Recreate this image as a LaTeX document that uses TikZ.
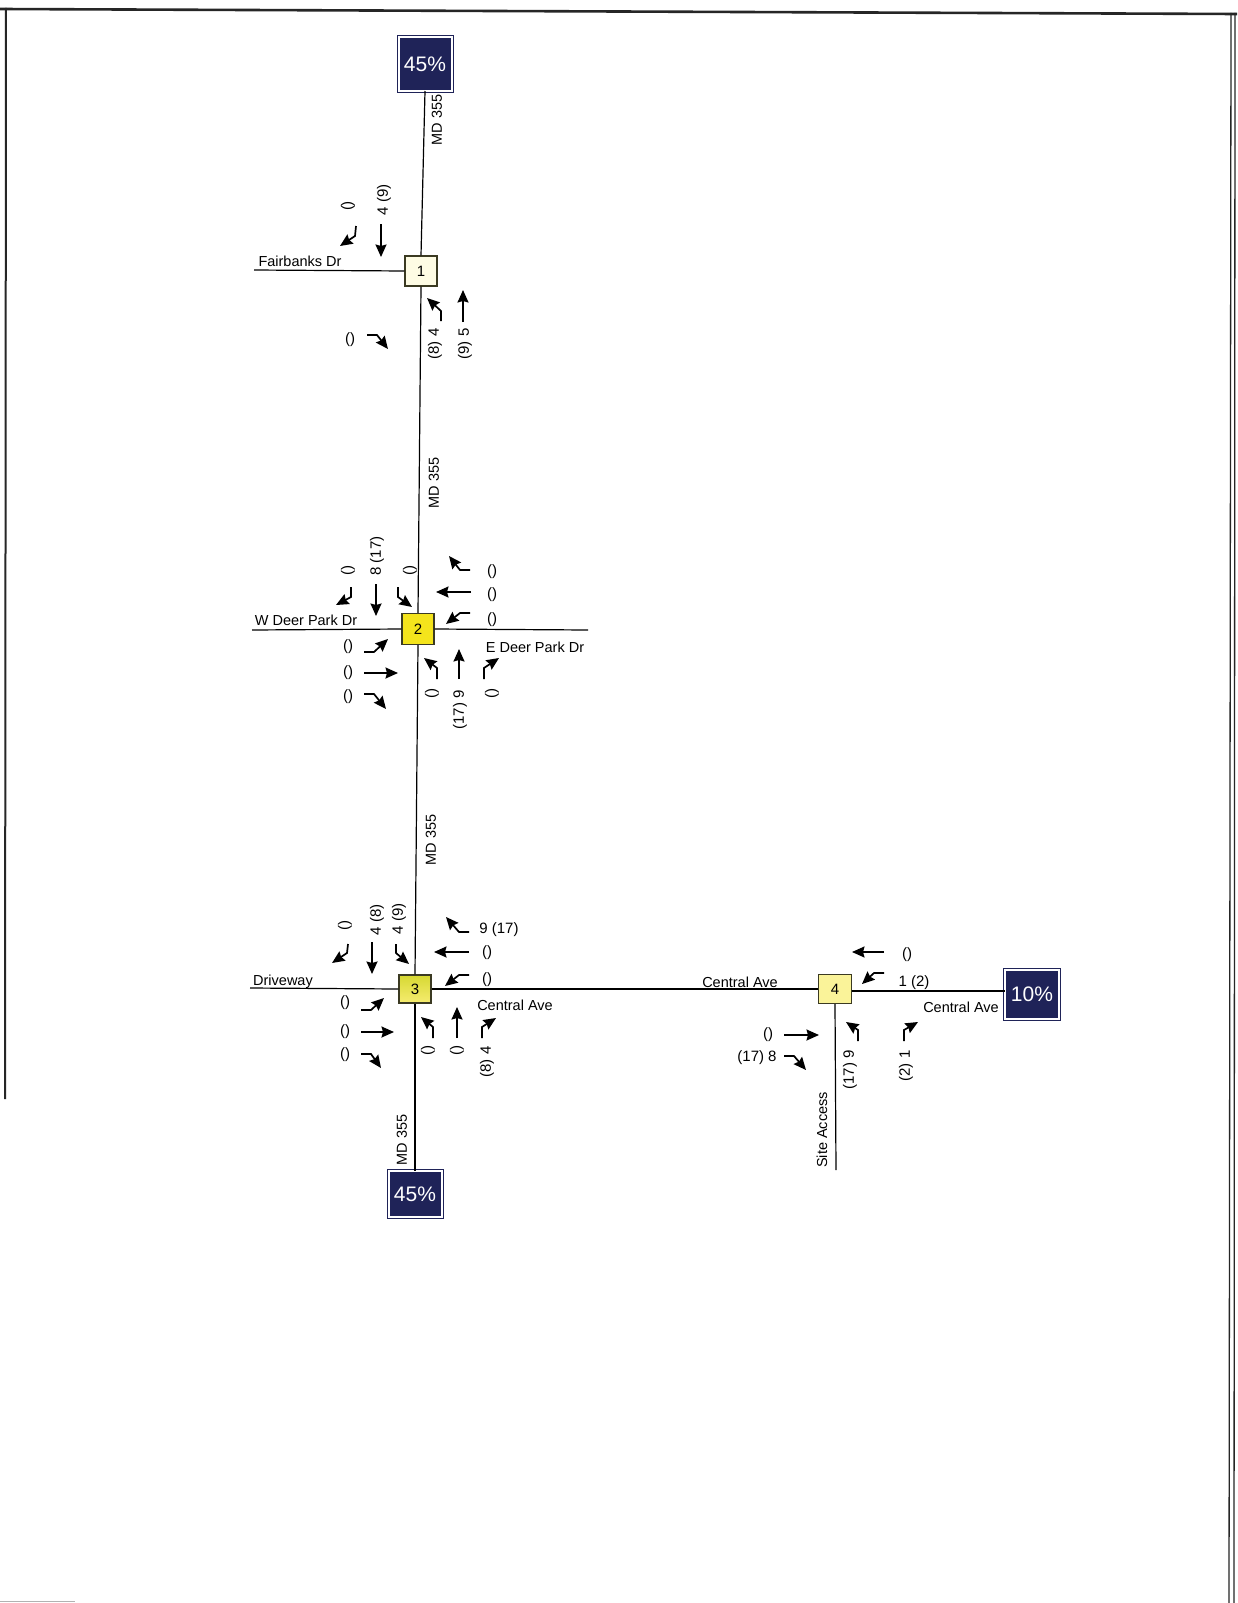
\documentclass[tikz,border=0pt]{standalone}
\usepackage{fontspec}
\setmainfont{Liberation Sans}
\usetikzlibrary{arrows.meta}
\definecolor{navyB}{HTML}{1F2358}
\definecolor{boxline}{HTML}{3B3A22}
\definecolor{ylw}{HTML}{F4E41C}
\definecolor{ylwtop}{HTML}{D6D832}
\definecolor{ylwbot}{HTML}{F6EC70}
\begin{document}
\begin{tikzpicture}[x=1pt,y=-1pt,
  road/.style={line width=1.2pt,black},
  mv/.style={line width=1.7pt,black,-{Stealth[length=12.5pt,width=11pt,inset=1.5pt]}},
  txt/.style={font=\fontsize{14.5}{16}\selectfont,inner sep=0pt},
  vol/.style={font=\fontsize{15}{17}\selectfont,inner sep=0pt},
  rvol/.style={vol,rotate=90},
  rtxt/.style={txt,rotate=90},
  nodebox/.style={draw=boxline,line width=1.2pt,minimum width=32pt,minimum height=30pt,inner sep=0pt,font=\fontsize{15}{17}\selectfont},
  pctbox/.style={draw=navyB,fill=navyB,double=white,double distance=2pt,line width=1pt,inner sep=0pt,text=white,font=\fontsize{21}{24}\selectfont}]
\useasboundingbox (0,0) rectangle (1237,1603);
\fill[white] (0,0) rectangle (1237,1603);
% frame
\draw[line width=2.6pt,black!85] (0,9) -- (1237,14);
\draw[line width=2pt,black!85] (6,8) -- (5,1099);
\draw[line width=1.3pt,black!85] (1231,13) -- (1229,1603);
\draw[line width=1.3pt,black!85] (1235,13) -- (1234,1603);
\draw[line width=1pt,black!30] (0,1601) -- (75,1601);
% boxes
\node[pctbox,minimum width=53pt,minimum height=53pt] (topbox) at (425,64) {45\%};
\node[pctbox,minimum width=53pt,minimum height=46pt] (botbox) at (415,1194) {45\%};
\node[pctbox,minimum width=54pt,minimum height=49pt] (tenbox) at (1032,994) {10\%};
\node[nodebox,fill=ylw!12] (n1) at (421,271) {1};
\node[nodebox,fill=ylw,minimum height=31pt] (n2) at (418,629) {2};
\node[nodebox,top color=ylwtop,bottom color=ylwbot,minimum height=28pt] (n3) at (415,989) {3};
\node[nodebox,fill=ylw!45,minimum height=29pt,minimum width=33pt] (n4) at (835,989) {4};
% roads
\coordinate (fbW) at (254,270);
\coordinate (wdW) at (252,630);
\coordinate (edE) at (588,630);
\coordinate (dwW) at (250,988);
\coordinate (saS) at (836,1170);
\draw[road] (topbox.south) -- (n1.north);
\draw[road] (n1.south) -- (n2.north);
\draw[road] (n2.south) -- (n3.north);
\draw[road] (n3.south) -- (botbox.north);
\draw[road] (fbW) -- (n1.west);
\draw[road] (wdW) -- (n2.west);
\draw[road] (n2.east) -- (edE);
\draw[road] (dwW) -- (n3.west);
\draw[road] (n3.east) -- (n4.west);
\draw[road] ([yshift=-2pt]n4.east) -- ([yshift=-2pt]n4.east -| tenbox.west);
\draw[road] (n4.south) -- (saS);
% road names
\node[rtxt] (md1) at (437,120) {MD 355};
\node[rtxt] (md2) at (434,483) {MD 355};
\node[rtxt] (md3) at (431,840) {MD 355};
\node[rtxt] (md4) at (402,1140) {MD 355};
\node[txt] (fbl) at (300,261) {Fairbanks Dr};
\node[txt] (wdl) at (306,620) {W Deer Park Dr};
\node[txt] (edl) at (535,647) {E Deer Park Dr};
\node[txt] (dwl) at (283,982) {Driveway};
\node[txt] (ca1) at (515,1005) {Central Ave};
\node[txt] (ca2) at (740,982) {Central Ave};
\node[txt] (ca3) at (961,1007) {Central Ave};
\node[rtxt] (sal) at (822,1130) {Site Access};
% ---- node 1
\draw[mv] (356,226) -- (355,236) -- (340,246);
\node[rvol] (v1a) at (348,206) {()};
\draw[mv] (381,224) -- (381,257);
\node[rvol] (v1b) at (384,200) {4 (9)};
\draw[mv] (441,321) -- (441,311) -- (427,298);
\node[rvol] (v1c) at (435,344) {(8) 4};
\draw[mv] (463,322) -- (463,290);
\node[rvol] (v1d) at (465,344) {(9) 5};
\draw[mv] (367,335) -- (377,335) -- (388,349);
\node[vol] (v1e) at (350,340) {()};
% ---- node 2
\draw[mv] (351,587) -- (351,597) -- (336,605);
\node[rvol] (v2a) at (348,570) {()};
\draw[mv] (376,584) -- (376,616);
\node[rvol] (v2b) at (377,556) {8 (17)};
\draw[mv] (398,587) -- (398,597) -- (412,607);
\node[rvol] (v2c) at (410,570) {()};
\draw[mv] (470,570) -- (460,570) -- (449,556);
\node[vol] (v2d) at (492,572) {()};
\draw[mv] (471,592) -- (436,592);
\node[vol] (v2e) at (492,595) {()};
\draw[mv] (470,613) -- (460,613) -- (446,624);
\node[vol] (v2f) at (492,620) {()};
\draw[mv] (364,652) -- (374,652) -- (388,639);
\node[vol] (v2g) at (348,647) {()};
\draw[mv] (364,673) -- (398,673);
\node[vol] (v2h) at (348,673) {()};
\draw[mv] (364,694) -- (374,694) -- (386,709);
\node[vol] (v2i) at (348,697) {()};
\draw[mv] (437,679) -- (437,668) -- (424,658);
\node[rvol] (v2j) at (432,693) {()};
\draw[mv] (459,679) -- (459,649);
\node[rvol] (v2k) at (460,710) {(17) 9};
\draw[mv] (484,679) -- (484,668) -- (499,658);
\node[rvol] (v2l) at (492,693) {()};
% ---- node 3
\draw[mv] (348,944) -- (347,953) -- (332,963);
\node[rvol] (v3a) at (345,925) {()};
\draw[mv] (372,942) -- (372,974);
\node[rvol] (v3b) at (377,920) {4 (8)};
\draw[mv] (396,944) -- (396,953) -- (409,964);
\node[rvol] (v3c) at (399,919) {4 (9)};
\draw[mv] (469,932) -- (459,932) -- (446,917);
\node[vol] (v3d) at (499,930) {9 (17)};
\draw[mv] (469,952) -- (434,952);
\node[vol] (v3e) at (487,953) {()};
\draw[mv] (469,975) -- (459,975) -- (445,986);
\node[vol] (v3f) at (487,980) {()};
\draw[mv] (361,1010) -- (371,1010) -- (384,998);
\node[vol] (v3g) at (345,1003) {()};
\draw[mv] (361,1032) -- (394,1032);
\node[vol] (v3h) at (345,1032) {()};
\draw[mv] (361,1054) -- (371,1054) -- (381,1068);
\node[vol] (v3i) at (345,1055) {()};
\draw[mv] (433,1038) -- (433,1027) -- (421,1017);
\node[rvol] (v3j) at (428,1050) {()};
\draw[mv] (457,1038) -- (457,1007);
\node[rvol] (v3k) at (457,1050) {()};
\draw[mv] (482,1038) -- (482,1027) -- (496,1018);
\node[rvol] (v3l) at (487,1062) {(8) 4};
% ---- node 4
\draw[mv] (884,952) -- (852,952);
\node[vol] (v4a) at (907,955) {()};
\draw[mv] (884,973) -- (874,973) -- (862,984);
\node[vol] (v4b) at (914,983) {1 (2)};
\draw[mv] (784,1035) -- (819,1035);
\node[vol] (v4c) at (768,1035) {()};
\draw[mv] (784,1056) -- (794,1056) -- (806,1070);
\node[vol] (v4d) at (757,1058) {(17) 8};
\draw[mv] (858,1041) -- (858,1030) -- (846,1022);
\node[rvol] (v4e) at (850,1070) {(17) 9};
\draw[mv] (904,1041) -- (904,1030) -- (918,1022);
\node[rvol] (v4f) at (906,1066) {(2) 1};
\end{tikzpicture}
\end{document}
